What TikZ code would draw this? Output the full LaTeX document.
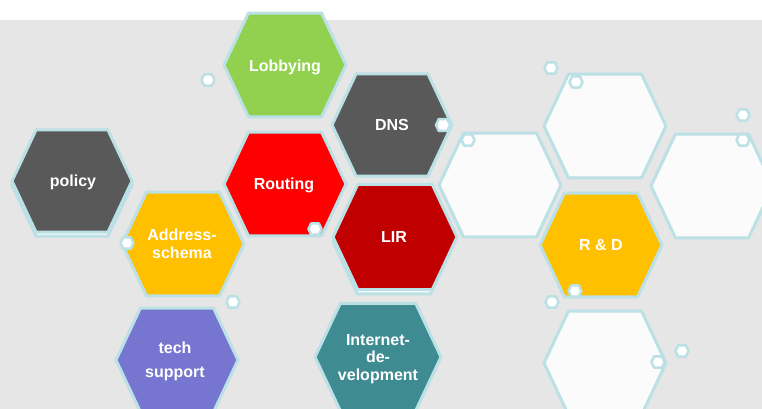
\documentclass[tikz,border=0pt]{standalone}
\usepackage{fontspec}
\setmainfont{Liberation Sans}

\tikzset{
  hexcell/.style={insert path={++(-#1,0) -- ++({0.4*#1},{-0.85*#1}) -- ++({1.2*#1},0)
      -- ++({0.4*#1},{0.85*#1}) -- ++({-0.4*#1},{0.85*#1}) -- ++({-1.2*#1},0) -- cycle}},
  rim/.style={draw=rimblue, line width=3pt, line join=round},
  smallrim/.style={draw=rimblue, line width=2.5pt, line join=round, fill=white},
  celltext/.style={text=white, font=\bfseries\fontsize{16}{17.5}\selectfont, align=center, inner sep=0pt}
}

\begin{document}
\begin{tikzpicture}[x=1pt, y=-1pt]
  % Define colors
  \definecolor{bggray}{RGB}{230,230,230}
  \definecolor{rimblue}{RGB}{187,224,229}
  \definecolor{blankfill}{RGB}{251,251,251}
  \definecolor{darkshell}{RGB}{89,89,89}
  \definecolor{greenshell}{RGB}{146,208,80}
  \definecolor{redshell}{RGB}{255,0,0}
  \definecolor{lirshell}{RGB}{192,0,0}
  \definecolor{yellowshell}{RGB}{255,192,0}
  \definecolor{purpleshell}{RGB}{118,117,208}
  \definecolor{tealshell}{RGB}{62,139,146}

  % Canvas
  \useasboundingbox (0,0) rectangle (762,409);
  \clip (0,0) rectangle (762,409);
  \fill[white] (0,0) rectangle (762,20);
  \fill[bggray] (0,20) rectangle (762,409);

  % Shifted white copies behind two cells
  \draw[rim, fill=white] (72,185) [hexcell=60];
  \draw[rim, fill=white] (394,242) [hexcell=61];

  % Coloured cells
  \draw[rim, fill=darkshell] (72,181) [hexcell=60];
  \draw[rim, fill=greenshell] (285,65) [hexcell=61];
  \draw[rim, fill=redshell] (285,184) [hexcell=61];
  \draw[rim, fill=darkshell] (392,125) [hexcell=60];
  \draw[rim, fill=lirshell] (395,237) [hexcell=62];
  \draw[rim, fill=yellowshell] (183,244) [hexcell=61];
  \draw[rim, fill=purpleshell] (177,360) [hexcell=61];
  \draw[rim, fill=tealshell] (378,357) [hexcell=63];
  \draw[rim, fill=yellowshell] (601,245) [hexcell=61];

  % Blank cells
  \draw[rim, fill=blankfill] (500,185) [hexcell=61];
  \draw[rim, fill=blankfill] (605,126) [hexcell=61];
  \draw[rim, fill=blankfill] (712,186) [hexcell=61];
  \draw[rim, fill=blankfill] (605,363) [hexcell=61];

  % Cell texts
  \node[celltext] (policy) at (73,182) {policy};
  \node[celltext] (lobbying) at (285,67) {Lobbying};
  \node[celltext] (routing) at (284,185) {Routing};
  \node[celltext] (dns) at (392,125) {DNS};
  \node[celltext] (lir) at (394,237) {LIR};
  \node[celltext] (address) at (182,244) {Address-\\schema};
  \node[celltext, font=\bfseries\fontsize{16}{24}\selectfont] (techsupport) at (175,361) {tech\\support};
  \node[celltext] (internet) at (378,359) {Internet-\\de-\\velopment};
  \node[celltext] (rnd) at (601,245) {R \& D};

  % Small cells
  \draw[smallrim] (208,80) [hexcell=6.5];
  \draw[smallrim] (443,125) [hexcell=7];
  \draw[smallrim] (468,140) [hexcell=6.5];
  \draw[smallrim] (551,68) [hexcell=6.5];
  \draw[smallrim] (576,82) [hexcell=6.5];
  \draw[smallrim] (743,115) [hexcell=6.5];
  \draw[smallrim] (743,140) [hexcell=6.5];
  \draw[smallrim] (315,229) [hexcell=6.5];
  \draw[smallrim] (127,243) [hexcell=6.5];
  \draw[smallrim] (233,302) [hexcell=6.5];
  \draw[smallrim] (575,291) [hexcell=6.5];
  \draw[smallrim] (552,302) [hexcell=6.5];
  \draw[smallrim] (658,362) [hexcell=6.5];
  \draw[smallrim] (682,351) [hexcell=6.5];
\end{tikzpicture}
\end{document}
